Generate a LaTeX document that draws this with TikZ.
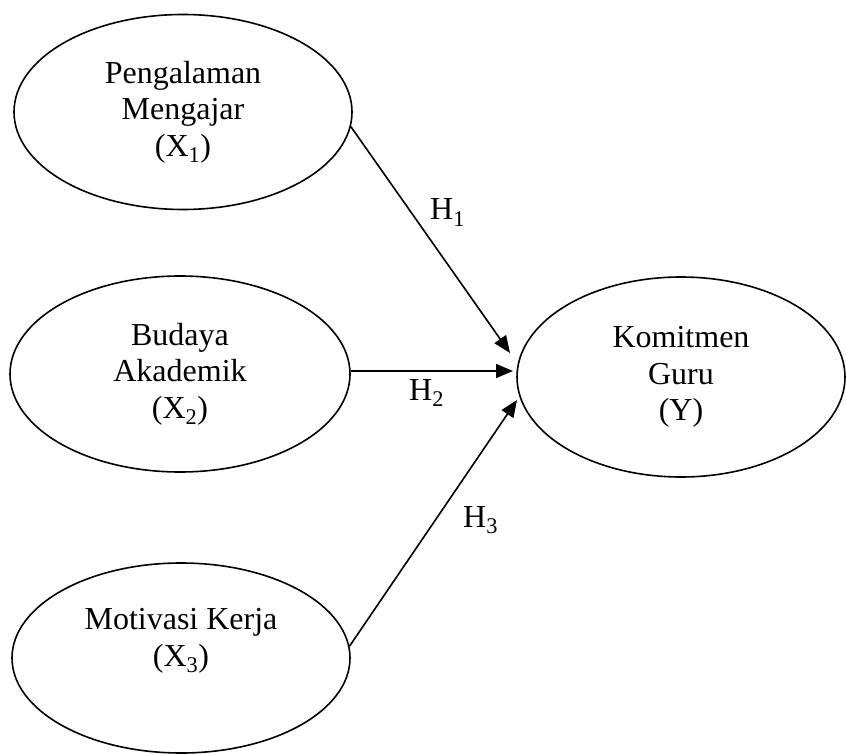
\documentclass[tikz,border=0pt]{standalone}
\usepackage{fontspec}
\setmainfont{Liberation Serif}
\usetikzlibrary{shapes.geometric,arrows.meta}
\begin{document}
\begin{tikzpicture}[x=1pt,y=-1pt,
  ell/.style={draw=black,line width=1.6pt,ellipse,inner sep=0pt,align=center,
    font=\fontsize{32}{36.5}\selectfont},
  txt/.style={inner sep=0pt,align=center,font=\fontsize{32}{36.5}\selectfont},
  hlab/.style={inner sep=0pt,anchor=base west,font=\fontsize{32}{36.5}\selectfont},
  conn/.style={line width=1.6pt,-{Triangle[length=17pt,width=14pt]}}]
\useasboundingbox (0,0) rectangle (846,754);
\node[ell,minimum width=338pt,minimum height=195pt] (e1) at (183,112)
  {Pengalaman\\Mengajar\\(X\textsubscript{1})};
\node[ell,minimum width=340pt,minimum height=196pt] (e2) at (180,374)
  {Budaya\\Akademik\\(X\textsubscript{2})};
\node[ell,minimum width=338pt,minimum height=190pt] (e3) at (181,658) {};
\node[txt] (e3t) at (181,641) {Motivasi Kerja\\(X\textsubscript{3})};
\node[ell,minimum width=328pt,minimum height=200pt] (e4) at (681,377)
  {Komitmen\\Guru\\(Y)};
\coordinate (t1) at (510,353);
\coordinate (t2) at (513,371);
\coordinate (t3) at (517,400);
\draw[conn] (e1.-5.4) -- (t1);
\draw[conn] (e2.1) -- (t2);
\draw[conn] (e3.4) -- (t3);
\node[hlab] (h1) at (430,220) {H\textsubscript{1}};
\node[hlab] (h2) at (409,400) {H\textsubscript{2}};
\node[hlab] (h3) at (463,527) {H\textsubscript{3}};
\end{tikzpicture}
\end{document}
